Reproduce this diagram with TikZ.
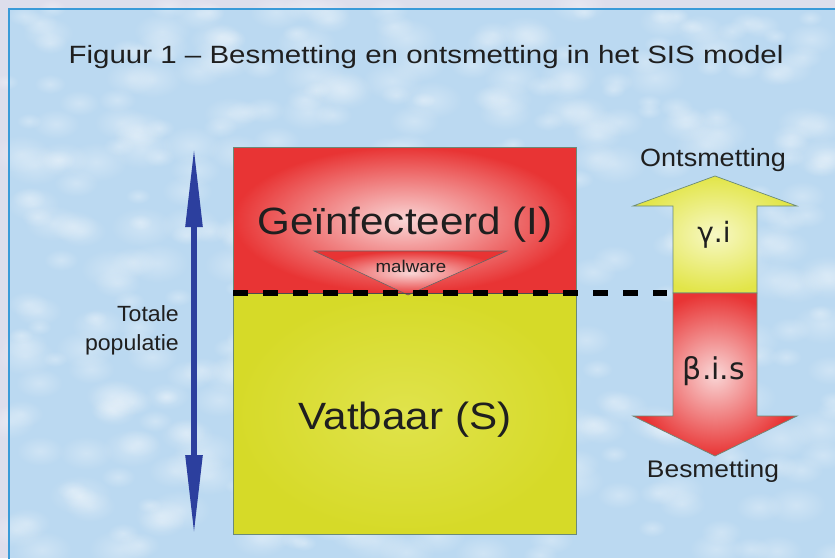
\documentclass[tikz,border=0pt]{standalone}
\usepackage{fontspec}
\usepackage{graphicx}
\setmainfont{Liberation Sans}
\newfontfamily\grk{DejaVu Sans}
\usetikzlibrary{arrows.meta,fadings}
\definecolor{outerbg}{HTML}{DDDEEC}
\definecolor{panelc}{HTML}{BBD9F1}
\definecolor{panelborder}{HTML}{3A9AD8}
\definecolor{redc}{HTML}{E83434}
\definecolor{pinkc}{HTML}{F9D6D6}
\definecolor{yelc}{HTML}{D6DA28}
\definecolor{yellight}{HTML}{E0E34C}
\definecolor{ayel}{HTML}{E2E548}
\definecolor{ayellight}{HTML}{F7F8C4}
\definecolor{bluec}{HTML}{2C3F9E}
\definecolor{edgec}{HTML}{6B8A78}
\tikzfading[name=softdot, inner color=transparent!70, outer color=transparent!100]
\newcommand\sx[2]{\scalebox{#1}[1]{#2}}
\tikzset{
  lbl/.style={inner sep=0pt, anchor=base, text=black!88},
  boxedge/.style={draw=edgec, line width=0.6pt},
}
\begin{document}
\begin{tikzpicture}[x=1pt,y=-1pt]
\useasboundingbox (0,0) rectangle (835,558);
% backgrounds
\fill[outerbg] (0,0) rectangle (835,558);
\fill[panelc] (9,9) rectangle (835,558);
\pgfmathsetseed{23}
\foreach \i in {1,...,420}{
  \pgfmathsetmacro\rx{random(5,835)}
  \pgfmathsetmacro\ry{random(5,558)}
  \pgfmathsetmacro\rr{random(8,20)}
  \fill[white, path fading=softdot] (\rx,\ry) ellipse ({\rr*1.6} and \rr);
}
\draw[panelborder, line width=2pt] (836,9) -- (9,9) -- (9,559);
% title
\node[lbl, font=\fontsize{25}{30}\selectfont] (title) at (426,63) {\sx{1.18}{Figuur 1 – Besmetting en ontsmetting in het SIS model}};
% population box
\shade[inner color=pinkc, outer color=redc] (233,147) rectangle (576,293);
\shade[inner color=yellight, outer color=yelc] (233,293) rectangle (576,534);
\draw[boxedge] (233,147) rectangle (576,534);
\node[lbl, font=\fontsize{38}{44}\selectfont] (inf) at (405,234) {\sx{1.11}{Geïnfecteerd (I)}};
\node[lbl, font=\fontsize{38}{44}\selectfont] (vat) at (405,429) {\sx{1.11}{Vatbaar (S)}};
% malware triangle
\shade[inner color=pinkc, outer color=redc, draw=black!60, line width=0.6pt] (314,251) -- (507,251) -- (408,295) -- cycle;
\node[lbl, font=\fontsize{17}{20}\selectfont] (mal) at (411,272) {\sx{1.1}{malware}};
% dashed line
\coordinate (dl) at (233,293);
\coordinate (dr) at (667,293);
\draw[black!70, line width=0.5pt] (233,293) -- (576,293);
\draw[black, line width=5.5pt, dash pattern=on 15pt off 15pt] (dl) -- (dr);
% total population arrow
\coordinate (ptop) at (194,147);
\coordinate (pbot) at (194,535);
\draw[bluec, line width=5.5pt, {Triangle[length=80pt,width=16pt]}-{Triangle[length=80pt,width=16pt]}] (ptop) -- (pbot);
\node[lbl, anchor=base east, font=\fontsize{22}{26}\selectfont] (tot1) at (179,321) {\sx{1.05}{Totale}};
\node[lbl, anchor=base east, font=\fontsize{22}{26}\selectfont] (tot2) at (179,350) {\sx{1.05}{populatie}};
% right block arrows
\shade[inner color=ayellight, outer color=ayel, draw=edgec, line width=0.7pt]
  (673,293) -- (673,206) -- (633,206) -- (715,176) -- (797,206) -- (757,206) -- (757,293) -- cycle;
\shade[inner color=pinkc, outer color=redc, draw=edgec, line width=0.7pt]
  (673,293) -- (673,416) -- (633,416) -- (715,456) -- (797,416) -- (757,416) -- (757,293) -- cycle;
\node[lbl, font=\fontsize{25}{30}\selectfont] (ont) at (713,166) {\sx{1.08}{Ontsmetting}};
\node[lbl, font=\fontsize{24}{30}\selectfont] (bes) at (713,477) {\sx{1.1}{Besmetting}};
\node[lbl, font=\grk\fontsize{28}{32}\selectfont] (gam) at (714,242) {γ.i};
\node[lbl, font=\grk\fontsize{30}{34}\selectfont] (bet) at (714,379) {β.i.s};
\end{tikzpicture}
\end{document}
